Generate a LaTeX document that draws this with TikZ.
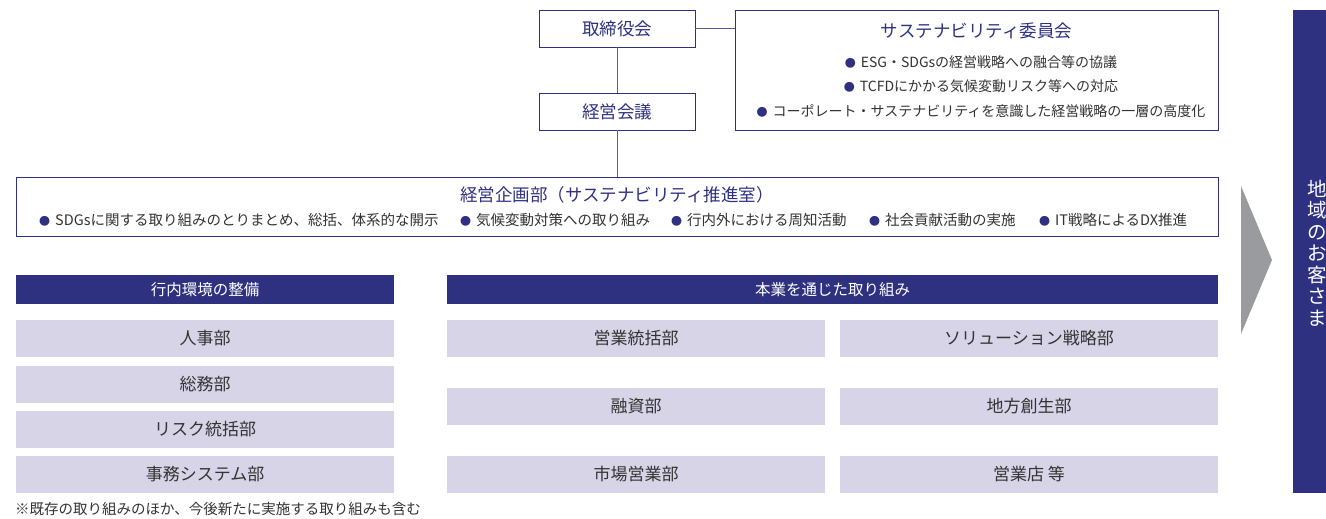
\documentclass[tikz,border=0pt]{standalone}
\usepackage{fontspec}
\setmainfont{Noto Sans CJK JP}
\definecolor{navy}{HTML}{2E3180}
\definecolor{lav}{HTML}{D6D4E6}
\definecolor{txt}{HTML}{333333}
\definecolor{arrowgray}{HTML}{9A9B9F}
\definecolor{connc}{HTML}{5C5E94}
\newcommand\bul{\textcolor{navy}{\fontsize{11}{11}\selectfont ●}\hspace{5pt}}
\tikzset{
  framebox/.style={draw=navy, line width=0.9pt, inner sep=0pt, fill=white},
  topbox/.style={framebox, minimum width=156pt, minimum height=37pt, text=navy, font=\fontsize{17.5}{20}\selectfont},
  titletext/.style={inner sep=0pt, text=navy, font=\fontsize{17.5}{20}\selectfont},
  bultext/.style={inner sep=0pt, text=txt, font=\fontsize{14}{16}\selectfont},
  planbul/.style={bultext, anchor=west, font=\fontsize{14.5}{16}\selectfont},
  header/.style={fill=navy, inner sep=0pt, minimum height=29pt, text=white, font=\fontsize{15.5}{16}\selectfont},
  dept/.style={fill=lav, inner sep=0pt, minimum width=378pt, minimum height=37pt, text=txt, font=\fontsize{17}{20}\selectfont},
  conn/.style={draw=connc, line width=0.9pt},
}
\begin{document}
\begin{tikzpicture}[x=1pt,y=-1pt]
\useasboundingbox (0,0) rectangle (1326,519);
% top boxes
\node[topbox] (tori) at (617,28.5) {取締役会};
\node[topbox] (keiei) at (617,111.5) {経営会議};
\node[framebox, minimum width=483pt, minimum height=120pt] (sus) at (976.5,70) {};
\node[titletext] (sustitle) at (976.5,31) {サステナビリティ委員会};
\node[bultext] (s1) at (981,62) {\bul ESG・SDGsの経営戦略への融合等の協議};
\node[bultext] (s2) at (981,86) {\bul TCFDにかかる気候変動リスク等への対応};
\node[bultext] (s3) at (981,111) {\bul コーポレート・サステナビリティを意識した経営戦略の一層の高度化};
% planning box
\node[framebox, minimum width=1202pt, minimum height=59pt] (plan) at (617,206.5) {};
\node[titletext] (plantitle) at (617,195) {経営企画部（サステナビリティ推進室）};
\node[planbul] (p1) at (39,220) {\bul SDGsに関する取り組みのとりまとめ、総括、体系的な開示};
\node[planbul] (p2) at (460,220) {\bul 気候変動対策への取り組み};
\node[planbul] (p3) at (671,220) {\bul 行内外における周知活動};
\node[planbul] (p4) at (869,220) {\bul 社会貢献活動の実施};
\node[planbul] (p5) at (1039,220) {\bul IT戦略によるDX推進};
% connectors
\draw[conn] (tori.east) -- (tori.east -| sus.west);
\draw[conn] (tori.south) -- (keiei.north);
\draw[conn] (keiei.south) -- (plan.north);
% headers
\node[header, minimum width=378pt] (h1) at (205,289.5) {行内環境の整備};
\node[header, minimum width=771pt] (h2) at (832.5,289.5) {本業を通じた取り組み};
% left column
\node[dept] (d1) at (205,338.5) {人事部};
\node[dept] (d2) at (205,384.5) {総務部};
\node[dept] (d3) at (205,429.5) {リスク統括部};
\node[dept] (d4) at (205,474.5) {事務システム部};
% middle column
\node[dept] (m1) at (636,338.5) {営業統括部};
\node[dept] (m2) at (636,406.5) {融資部};
\node[dept] (m3) at (636,474.5) {市場営業部};
% right column
\node[dept] (r1) at (1029,338.5) {ソリューション戦略部};
\node[dept] (r2) at (1029,406.5) {地方創生部};
\node[dept] (r3) at (1029,474.5) {営業店 等};
% footnote
\node[bultext, anchor=west, font=\fontsize{14.5}{16}\selectfont] (note) at (15,509) {※既存の取り組みのほか、今後新たに実施する取り組みも含む};
% arrow and bar
\fill[arrowgray] (1241,186) -- (1272,260) -- (1241,334) -- cycle;
\node[fill=navy, minimum width=33pt, minimum height=483pt, inner sep=0pt] (bar) at (1309.5,251.5) {};
\node[inner sep=0pt, text=white, align=center, font=\fontsize{19.5}{21.5}\selectfont] (bartext) at (1317,253) {地\\域\\の\\お\\客\\さ\\ま};
\end{tikzpicture}
\end{document}
